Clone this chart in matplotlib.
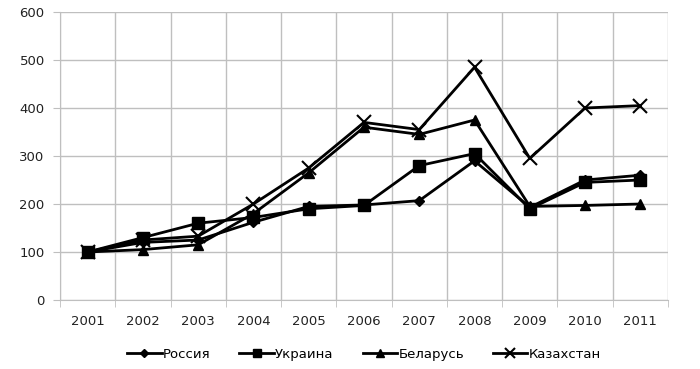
import matplotlib.pyplot as plt
import numpy as np

years = ['2001', '2002', '2003', '2004', '2005', '2006',
         '2007', '2008', '2009', '2010', '2011']
russia = [100, 120, 125, 162, 195, 198, 207, 290, 193, 250, 260]
ukraine = [100, 130, 160, 172, 190, 197, 280, 305, 190, 245, 250]
belarus = [100, 105, 115, 180, 265, 360, 345, 375, 195, 197, 200]
kazakhstan = [100, 125, 133, 200, 275, 370, 355, 485, 295, 400, 405]

fig = plt.figure(figsize=(7, 3.69), dpi=100)
ax = fig.add_axes([60/700, 69/369, 608/700, 288/369])

x = np.arange(len(years))
ax.plot(x, russia, color='black', lw=2, marker='D', ms=5, label='Россия')
ax.plot(x, ukraine, color='black', lw=2, marker='s', ms=8, label='Украина')
ax.plot(x, belarus, color='black', lw=2, marker='^', ms=7, label='Беларусь')
ax.plot(x, kazakhstan, color='black', lw=2, marker='x', ms=10, mew=1.5, label='Казахстан')

ax.set_xlim(-0.5, len(years) - 0.5)
ax.set_ylim(0, 600)
ax.set_yticks(range(0, 601, 100))
ax.set_xticks(x)
ax.set_xticklabels(years)
ax.set_xticks(np.arange(-0.5, len(years), 1), minor=True)

# Excel style grid: horizontal at values, vertical between categories
ax.grid(axis='y', which='major', color='#bfbfbf', lw=1)
ax.grid(axis='x', which='minor', color='#bfbfbf', lw=1)
ax.set_axisbelow(True)

ax.tick_params(axis='x', which='major', length=0, pad=11, labelsize=9.5, colors='#222222')
ax.tick_params(axis='x', which='minor', length=5, color='#bfbfbf')
ax.tick_params(axis='y', length=5, color='#bfbfbf', labelsize=9.5, labelcolor='#222222', pad=6)

for side in ['top', 'right']:
    ax.spines[side].set_visible(False)
for side in ['left', 'bottom']:
    ax.spines[side].set_color('#bfbfbf')

ax.legend(loc='upper center', bbox_to_anchor=(0.5, -0.125), ncol=4, frameon=False,
          fontsize=9.5, handlelength=2.6, handletextpad=0.1, columnspacing=2.2,
          markerscale=0.75)

fig.savefig('out.png', dpi=100)
